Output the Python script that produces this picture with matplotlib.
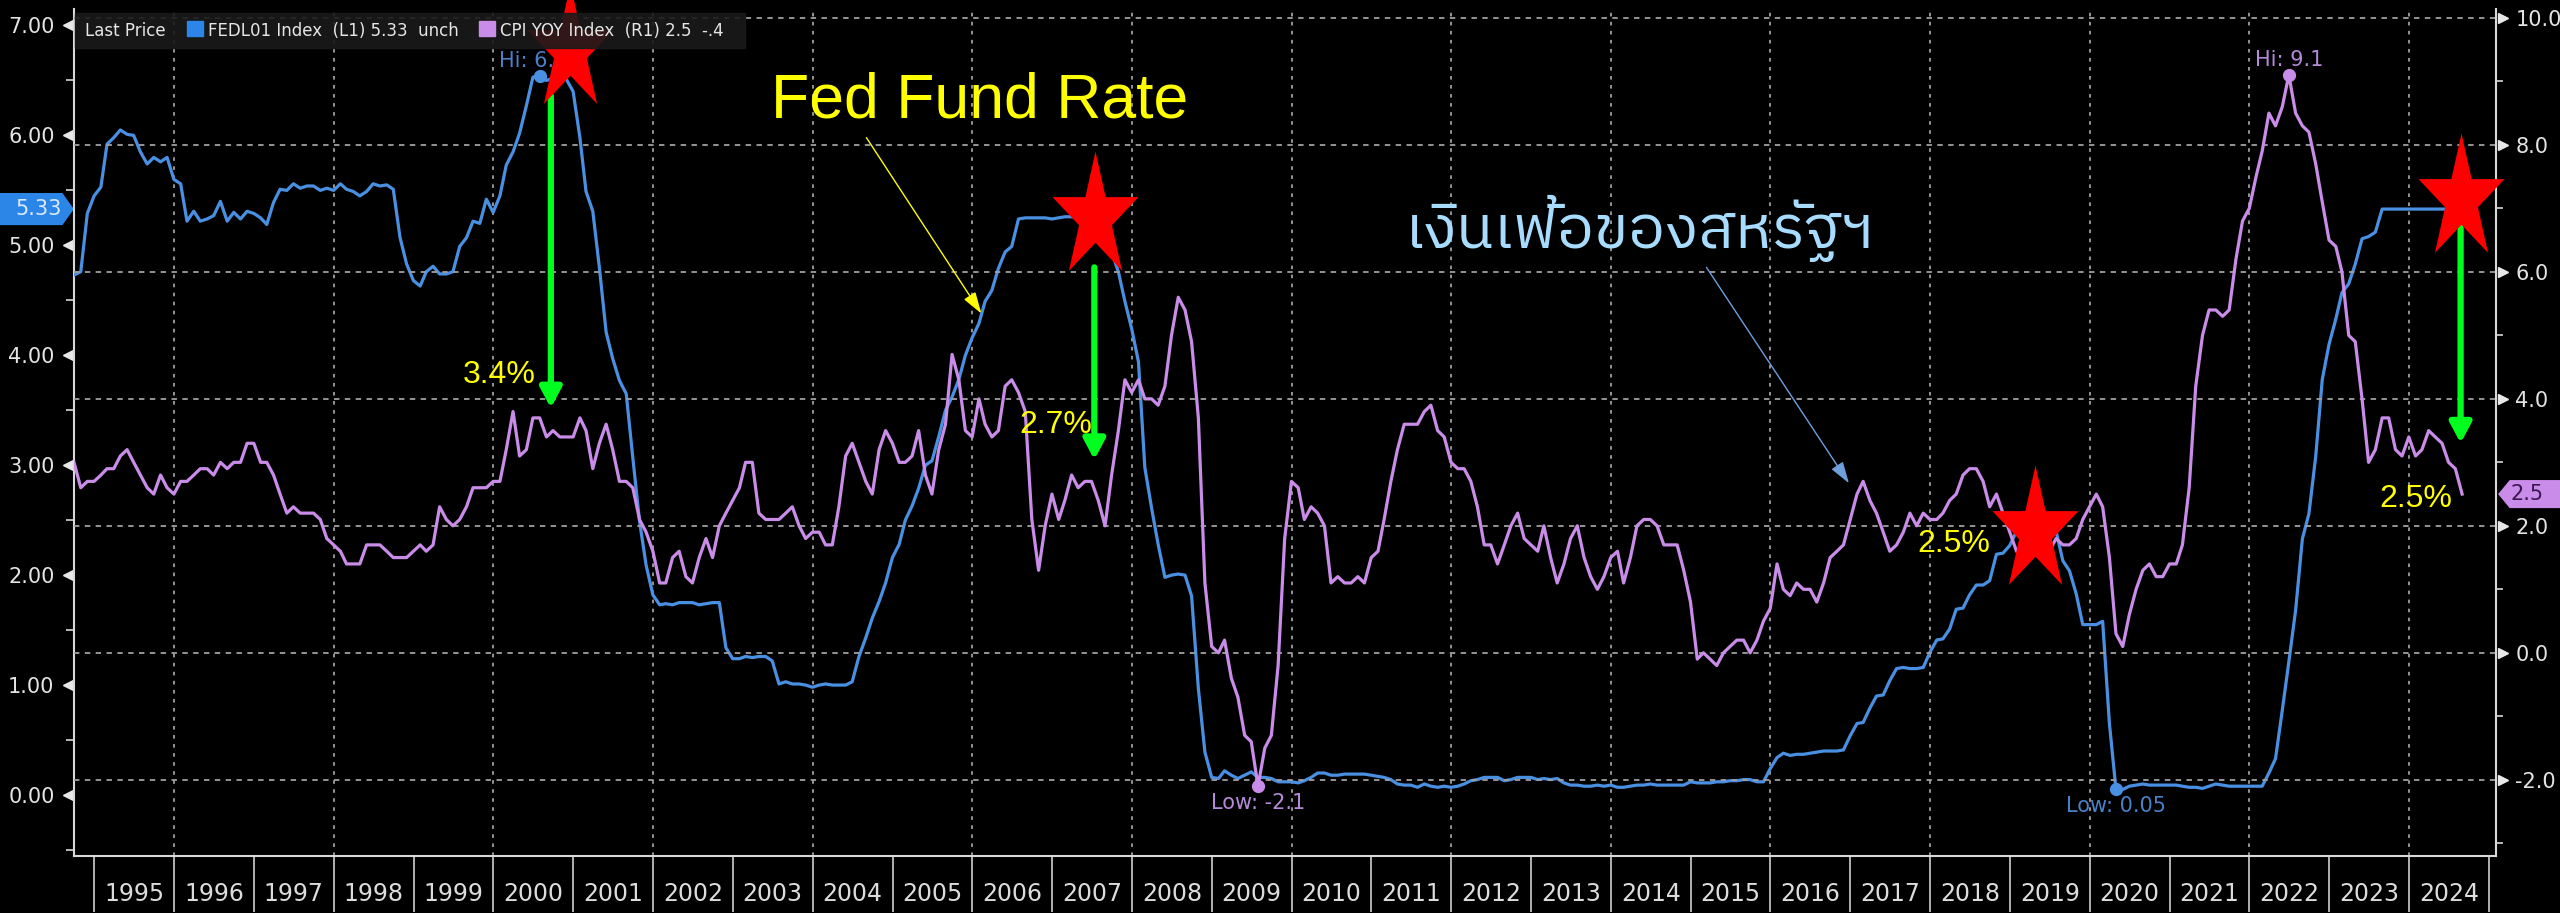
import matplotlib
matplotlib.use('Agg')
import matplotlib.pyplot as plt
import matplotlib.dates as mdates
from matplotlib import font_manager
from matplotlib.ft2font import FT2Font
from matplotlib.path import Path
from matplotlib.patches import Polygon, Rectangle
from matplotlib.transforms import ScaledTranslation
import numpy as np
import pandas as pd

plt.rcParams['axes.unicode_minus'] = False

# monthly values, Sep 1994 .. Aug 2024 (month end)
dates = pd.date_range('1994-09-30', '2024-08-31', freq='ME')

fed_funds = [
    4.73, 4.76, 5.29, 5.45,                                              # 1994
    5.53, 5.92, 5.98, 6.05, 6.01, 6.00, 5.85, 5.74, 5.80, 5.76, 5.80, 5.60,  # 1995
    5.56, 5.22, 5.31, 5.22, 5.24, 5.27, 5.40, 5.22, 5.30, 5.24, 5.31, 5.29,  # 1996
    5.25, 5.19, 5.39, 5.51, 5.50, 5.56, 5.52, 5.54, 5.54, 5.50, 5.52, 5.50,  # 1997
    5.56, 5.51, 5.49, 5.45, 5.49, 5.56, 5.54, 5.55, 5.51, 5.07, 4.83, 4.68,  # 1998
    4.63, 4.76, 4.81, 4.74, 4.74, 4.76, 4.99, 5.07, 5.22, 5.20, 5.42, 5.30,  # 1999
    5.45, 5.73, 5.85, 6.02, 6.27, 6.53, 6.54, 6.50, 6.52, 6.51, 6.51, 6.40,  # 2000
    5.98, 5.49, 5.31, 4.80, 4.21, 3.97, 3.77, 3.65, 3.07, 2.49, 2.09, 1.82,  # 2001
    1.73, 1.74, 1.73, 1.75, 1.75, 1.75, 1.73, 1.74, 1.75, 1.75, 1.34, 1.24,  # 2002
    1.24, 1.26, 1.25, 1.26, 1.26, 1.22, 1.01, 1.03, 1.01, 1.01, 1.00, 0.98,  # 2003
    1.00, 1.01, 1.00, 1.00, 1.00, 1.03, 1.26, 1.43, 1.61, 1.76, 1.93, 2.16,  # 2004
    2.28, 2.50, 2.63, 2.79, 3.00, 3.04, 3.26, 3.50, 3.62, 3.78, 4.00, 4.16,  # 2005
    4.29, 4.49, 4.59, 4.79, 4.94, 4.99, 5.24, 5.25, 5.25, 5.25, 5.25, 5.24,  # 2006
    5.25, 5.26, 5.26, 5.25, 5.25, 5.25, 5.26, 5.02, 4.94, 4.76, 4.49, 4.24,  # 2007
    3.94, 2.98, 2.61, 2.28, 1.98, 2.00, 2.01, 2.00, 1.81, 0.97, 0.39, 0.16,  # 2008
    0.15, 0.22, 0.18, 0.15, 0.18, 0.21, 0.16, 0.16, 0.15, 0.12, 0.12, 0.12,  # 2009
    0.11, 0.13, 0.16, 0.20, 0.20, 0.18, 0.18, 0.19, 0.19, 0.19, 0.19, 0.18,  # 2010
    0.17, 0.16, 0.14, 0.10, 0.09, 0.09, 0.07, 0.10, 0.08, 0.07, 0.08, 0.07,  # 2011
    0.08, 0.10, 0.13, 0.14, 0.16, 0.16, 0.16, 0.13, 0.14, 0.16, 0.16, 0.16,  # 2012
    0.14, 0.15, 0.14, 0.15, 0.11, 0.09, 0.09, 0.08, 0.08, 0.09, 0.08, 0.09,  # 2013
    0.07, 0.07, 0.08, 0.09, 0.09, 0.10, 0.09, 0.09, 0.09, 0.09, 0.09, 0.12,  # 2014
    0.11, 0.11, 0.11, 0.12, 0.12, 0.13, 0.13, 0.14, 0.14, 0.12, 0.12, 0.24,  # 2015
    0.34, 0.38, 0.36, 0.37, 0.37, 0.38, 0.39, 0.40, 0.40, 0.40, 0.41, 0.54,  # 2016
    0.65, 0.66, 0.79, 0.90, 0.91, 1.04, 1.15, 1.16, 1.15, 1.15, 1.16, 1.30,  # 2017
    1.41, 1.42, 1.51, 1.69, 1.70, 1.82, 1.91, 1.91, 1.95, 2.19, 2.20, 2.27,  # 2018
    2.40, 2.40, 2.41, 2.42, 2.39, 2.38, 2.40, 2.13, 2.04, 1.83, 1.55, 1.55,  # 2019
    1.55, 1.58, 0.65, 0.05, 0.05, 0.08, 0.09, 0.10, 0.09, 0.09, 0.09, 0.09,  # 2020
    0.09, 0.08, 0.07, 0.07, 0.06, 0.08, 0.10, 0.09, 0.08, 0.08, 0.08, 0.08,  # 2021
    0.08, 0.08, 0.20, 0.33, 0.77, 1.21, 1.68, 2.33, 2.56, 3.08, 3.78, 4.10,  # 2022
    4.33, 4.57, 4.65, 4.83, 5.06, 5.08, 5.12, 5.33, 5.33, 5.33, 5.33, 5.33,  # 2023
    5.33, 5.33, 5.33, 5.33, 5.33, 5.33, 5.33, 5.33,                          # 2024
]

cpi_yoy = [
    3.0, 2.6, 2.7, 2.7,                                          # 1994
    2.8, 2.9, 2.9, 3.1, 3.2, 3.0, 2.8, 2.6, 2.5, 2.8, 2.6, 2.5,  # 1995
    2.7, 2.7, 2.8, 2.9, 2.9, 2.8, 3.0, 2.9, 3.0, 3.0, 3.3, 3.3,  # 1996
    3.0, 3.0, 2.8, 2.5, 2.2, 2.3, 2.2, 2.2, 2.2, 2.1, 1.8, 1.7,  # 1997
    1.6, 1.4, 1.4, 1.4, 1.7, 1.7, 1.7, 1.6, 1.5, 1.5, 1.5, 1.6,  # 1998
    1.7, 1.6, 1.7, 2.3, 2.1, 2.0, 2.1, 2.3, 2.6, 2.6, 2.6, 2.7,  # 1999
    2.7, 3.2, 3.8, 3.1, 3.2, 3.7, 3.7, 3.4, 3.5, 3.4, 3.4, 3.4,  # 2000
    3.7, 3.5, 2.9, 3.3, 3.6, 3.2, 2.7, 2.7, 2.6, 2.1, 1.9, 1.6,  # 2001
    1.1, 1.1, 1.5, 1.6, 1.2, 1.1, 1.5, 1.8, 1.5, 2.0, 2.2, 2.4,  # 2002
    2.6, 3.0, 3.0, 2.2, 2.1, 2.1, 2.1, 2.2, 2.3, 2.0, 1.8, 1.9,  # 2003
    1.9, 1.7, 1.7, 2.3, 3.1, 3.3, 3.0, 2.7, 2.5, 3.2, 3.5, 3.3,  # 2004
    3.0, 3.0, 3.1, 3.5, 2.8, 2.5, 3.2, 3.6, 4.7, 4.3, 3.5, 3.4,  # 2005
    4.0, 3.6, 3.4, 3.5, 4.2, 4.3, 4.1, 3.8, 2.1, 1.3, 2.0, 2.5,  # 2006
    2.1, 2.4, 2.8, 2.6, 2.7, 2.7, 2.4, 2.0, 2.8, 3.5, 4.3, 4.1,  # 2007
    4.3, 4.0, 4.0, 3.9, 4.2, 5.0, 5.6, 5.4, 4.9, 3.7, 1.1, 0.1,  # 2008
    0.0, 0.2, -0.4, -0.7, -1.3, -1.4, -2.1, -1.5, -1.3, -0.2, 1.8, 2.7,  # 2009
    2.6, 2.1, 2.3, 2.2, 2.0, 1.1, 1.2, 1.1, 1.1, 1.2, 1.1, 1.5,  # 2010
    1.6, 2.1, 2.7, 3.2, 3.6, 3.6, 3.6, 3.8, 3.9, 3.5, 3.4, 3.0,  # 2011
    2.9, 2.9, 2.7, 2.3, 1.7, 1.7, 1.4, 1.7, 2.0, 2.2, 1.8, 1.7,  # 2012
    1.6, 2.0, 1.5, 1.1, 1.4, 1.8, 2.0, 1.5, 1.2, 1.0, 1.2, 1.5,  # 2013
    1.6, 1.1, 1.5, 2.0, 2.1, 2.1, 2.0, 1.7, 1.7, 1.7, 1.3, 0.8,  # 2014
    -0.1, 0.0, -0.1, -0.2, 0.0, 0.1, 0.2, 0.2, 0.0, 0.2, 0.5, 0.7,  # 2015
    1.4, 1.0, 0.9, 1.1, 1.0, 1.0, 0.8, 1.1, 1.5, 1.6, 1.7, 2.1,  # 2016
    2.5, 2.7, 2.4, 2.2, 1.9, 1.6, 1.7, 1.9, 2.2, 2.0, 2.2, 2.1,  # 2017
    2.1, 2.2, 2.4, 2.5, 2.8, 2.9, 2.9, 2.7, 2.3, 2.5, 2.2, 1.9,  # 2018
    1.6, 1.5, 1.9, 2.0, 1.8, 1.6, 1.8, 1.7, 1.7, 1.8, 2.1, 2.3,  # 2019
    2.5, 2.3, 1.5, 0.3, 0.1, 0.6, 1.0, 1.3, 1.4, 1.2, 1.2, 1.4,  # 2020
    1.4, 1.7, 2.6, 4.2, 5.0, 5.4, 5.4, 5.3, 5.4, 6.2, 6.8, 7.0,  # 2021
    7.5, 7.9, 8.5, 8.3, 8.6, 9.1, 8.5, 8.3, 8.2, 7.7, 7.1, 6.5,  # 2022
    6.4, 6.0, 5.0, 4.9, 4.0, 3.0, 3.2, 3.7, 3.7, 3.2, 3.1, 3.4,  # 2023
    3.1, 3.2, 3.5, 3.4, 3.3, 3.0, 2.9, 2.5,                      # 2024
]

years = list(range(1995, 2025))

# annotations (left axis units)
star_dates = ['2000-12-18', '2007-07-17', '2019-04-27', '2024-08-24']
star_vals = [6.78, 5.26, 2.40, 5.42]
drop_dates = ['2000-09-20', '2007-07-13', '2024-08-24']
drop_from = [6.36, 4.80, 5.16]
drop_to = [3.52, 3.05, 3.20]
pct_labels = ['3.4%', '2.7%', '2.5%', '2.5%']
pct_dates = ['1999-08-14', '2006-08-04', '2017-11-02', '2023-08-18']
pct_vals = [3.745, 3.29, 2.21, 2.62]

fed_color = '#4a90e2'
cpi_color = '#c98ce8'
grid_color = '#a0a0a0'
W, H = 2560, 913


def fx(px):
    return px / W


def fy(py):
    return 1 - py / H


def d(s):
    return mdates.date2num(pd.Timestamp(s))


def thai_font():
    names = []
    for f in font_manager.fontManager.ttflist:
        try:
            if 0x0E40 in FT2Font(f.fname).get_charmap():
                names.append(f.name)
        except Exception:
            pass
    names.sort(key=lambda n: ('Sans' not in n, 'Thai' not in n))
    return names[0] if names else 'DejaVu Sans'


fed = np.array(fed_funds)
cpi = np.array(cpi_yoy)

fig = plt.figure(figsize=(W / 100, H / 100), dpi=100, facecolor='black')
ax = fig.add_axes([fx(74), 57 / H, fx(2496 - 74), (856 - 9) / H])
ax.set_facecolor('black')
ax2 = ax.twinx()

ax.plot(dates, fed, color=fed_color, lw=2.3, zorder=3)
ax2.plot(dates, cpi, color=cpi_color, lw=2.3, zorder=3)

# spines
for s in ['top', 'right']:
    ax.spines[s].set_visible(False)
for s in ['top', 'left', 'bottom']:
    ax2.spines[s].set_visible(False)
for sp in [ax.spines['left'], ax.spines['bottom'], ax2.spines['right']]:
    sp.set_color('#d8d8d8')
    sp.set_linewidth(1.5)

# x axis: year separators and centered labels
ax.set_xticks(pd.date_range('1995-01-01', '2025-01-01', freq='YS'))
ax.set_xticklabels([])
ax.set_xticks([pd.Timestamp(f'{y}-07-02') for y in years], minor=True)
ax.set_xticklabels([str(y) for y in years], minor=True)
ax.tick_params(axis='x', which='major', length=40, width=1.2, color='#cfcfcf', direction='out')
ax.tick_params(axis='x', which='minor', length=0, pad=19, labelsize=17, labelcolor='#dcdcdc')
for y in range(1996, 2025, 2):
    ax.axvline(pd.Timestamp(f'{y}-01-01'), color=grid_color, lw=1.3, ls=(0, (2, 3)), zorder=1)

# left axis
lticks = np.arange(0, 8)
ax.set_yticks(lticks)
ax.set_yticklabels([f'{v:.2f}' for v in lticks])
ax.set_yticks(np.arange(-0.5, 7, 1), minor=True)
ax.tick_params(axis='y', which='major', length=0, pad=14, labelsize=15, labelcolor='#e4e4e4')
ax.tick_params(axis='y', which='minor', length=6, width=1.2, color='#d8d8d8', direction='out')
ax.plot(np.zeros(len(lticks)), lticks, ls='none', marker='<', ms=7, color='#e8e8e8', clip_on=False,
        transform=ax.get_yaxis_transform() + ScaledTranslation(-0.065, 0, fig.dpi_scale_trans))

# right axis
rticks = np.arange(-2, 11, 2)
ax2.set_yticks(rticks)
ax2.set_yticklabels([f'{v:.1f}' for v in rticks])
ax2.set_yticks(np.arange(-3, 10, 2), minor=True)
ax2.tick_params(axis='y', which='major', length=0, pad=14, labelsize=15, labelcolor='#e4e4e4')
ax2.tick_params(axis='y', which='minor', length=5, width=1.2, color='#d8d8d8', direction='out')
ax2.plot(np.ones(len(rticks)), rticks, ls='none', marker='>', ms=7, color='#e8e8e8', clip_on=False,
         transform=ax2.get_yaxis_transform() + ScaledTranslation(0.065, 0, fig.dpi_scale_trans))
ax2.yaxis.grid(True, which='major', color=grid_color, lw=1.3, ls=(0, (3, 3)))
ax2.set_axisbelow(True)

# hi / low markers
for a, series, col, lab, fmt in [(ax, fed, fed_color, '#4a80c8', '{:.2f}'),
                                 (ax2, cpi, cpi_color, '#b58ad8', '{:.1f}')]:
    hi, lo = int(np.argmax(series)), int(np.argmin(series))
    a.plot([dates[hi], dates[lo]], [series[hi], series[lo]], ls='none', marker='o', ms=8.5, color=col, zorder=4)
    a.annotate('Hi: ' + fmt.format(series[hi]), (dates[hi], series[hi]), xytext=(0, 11),
               textcoords='offset points', ha='center', va='center', fontsize=15, color=lab)
    a.annotate('Low: ' + fmt.format(series[lo]), (dates[lo], series[lo]), xytext=(0, -12),
               textcoords='offset points', ha='center', va='center', fontsize=15, color=lab)

# last value tags
tf = ax.get_yaxis_transform()
tw = 1 / (2496 - 74)
v = fed[-1]
ax.add_patch(Polygon([(-74 * tw, v - 0.14), (-12 * tw, v - 0.14), (-1 * tw, v), (-12 * tw, v + 0.14),
                      (-74 * tw, v + 0.14)], closed=True, transform=tf, clip_on=False, color='#2b86e8'))
ax.text(-12 * tw, v, f'{v:.2f}', transform=tf, ha='right', va='center', fontsize=15, color='#dde9ff')
tf2 = ax2.get_yaxis_transform()
v = cpi[-1]
ax2.add_patch(Polygon([(1 + 3 * tw, v), (1 + 14 * tw, v - 0.21), (1 + 70 * tw, v - 0.21), (1 + 70 * tw, v + 0.21),
                       (1 + 14 * tw, v + 0.21)], closed=True, transform=tf2, clip_on=False, color=cpi_color))
ax2.text(1 + 14 * tw, v, f'{v:.1f}', transform=tf2, ha='left', va='center', fontsize=15, color='#3a1650')

# legend strip
fig.patches.append(Rectangle((fx(75), fy(48)), fx(670), 35 / H, transform=fig.transFigure,
                             color='#1a1a1a', alpha=0.9, zorder=0.5))
fig.text(fx(85), fy(36), 'Last Price', fontsize=12, color='#e6e6e6', va='baseline')
fig.patches.append(Rectangle((fx(187), fy(36)), fx(16), 15 / H, transform=fig.transFigure, color='#2b86e8'))
fig.text(fx(208), fy(36), f'FEDL01 Index  (L1) {fed[-1]:.2f}  unch', fontsize=12, color='#e6e6e6', va='baseline')
fig.patches.append(Rectangle((fx(479), fy(36)), fx(16), 15 / H, transform=fig.transFigure, color=cpi_color))
chg = f'{cpi[-1] - cpi[-2]:.1f}'.replace('0.', '.')
fig.text(fx(500), fy(36), f'CPI YOY Index  (R1) {cpi[-1]:.1f}  {chg}', fontsize=12, color='#e6e6e6',
         va='baseline')

# drawn-on annotations (on top of both lines)
td = ax.transData
for x, y0, y1 in zip(drop_dates, drop_from, drop_to):
    ax2.annotate('', xy=(d(x), y1), xytext=(d(x), y0), xycoords=td, textcoords=td, annotation_clip=False,
                 arrowprops=dict(arrowstyle='-|>,head_width=0.32,head_length=0.6', mutation_scale=20,
                                 lw=4.5, color='#00ff1e', shrinkA=0, shrinkB=0), zorder=8)
for s, x, y in zip(pct_labels, pct_dates, pct_vals):
    ax2.text(d(x), y, s, transform=td, fontsize=23, color='#ffff00', family='Liberation Sans',
             va='baseline', zorder=8)

ang = np.pi / 2 + np.arange(10) * np.pi / 5
rad = np.where(np.arange(10) % 2 == 0, 1.0, 0.382)
star = Path(np.column_stack([rad * np.cos(ang), 1.46 * rad * np.sin(ang)]), closed=False)
ax2.plot([d(x) for x in star_dates], star_vals, ls='none', marker=star, ms=95, color='#ff0000',
         mec='none', transform=td, clip_on=False, zorder=9)

ax2.text(d('2003-06-24'), 6.164, 'Fed Fund Rate', transform=td, fontsize=45, color='#ffff00',
         family='Liberation Sans', va='baseline', zorder=8)
ax2.annotate('', xy=(d('2006-02-11'), 4.38), xytext=(d('2004-09-03'), 5.98), xycoords=td, textcoords=td,
             arrowprops=dict(arrowstyle='-|>,head_width=0.35,head_length=1.1', mutation_scale=12,
                             lw=1, color='#ffff00', shrinkA=0, shrinkB=0))
ax2.text(d('2011-06-05'), 4.98, 'เงินเฟ้อของสหรัฐฯ', transform=td, fontsize=44, color='#a8dcff',
         family=[thai_font(), 'DejaVu Sans'], va='baseline', zorder=8)
ax2.annotate('', xy=(d('2016-12-25'), 2.836), xytext=(d('2015-03-14'), 4.80), xycoords=td, textcoords=td,
             arrowprops=dict(arrowstyle='-|>,head_width=0.35,head_length=1.1', mutation_scale=12,
                             lw=1, color='#6f9fdc', shrinkA=0, shrinkB=0))

ax.set_xlim(dates[0], pd.Timestamp('2025-02-02'))
ax.set_ylim(-0.555, 7.15)
ax2.set_ylim(-3.2, 10.14)

fig.savefig('out.png', dpi=100, facecolor='black')
